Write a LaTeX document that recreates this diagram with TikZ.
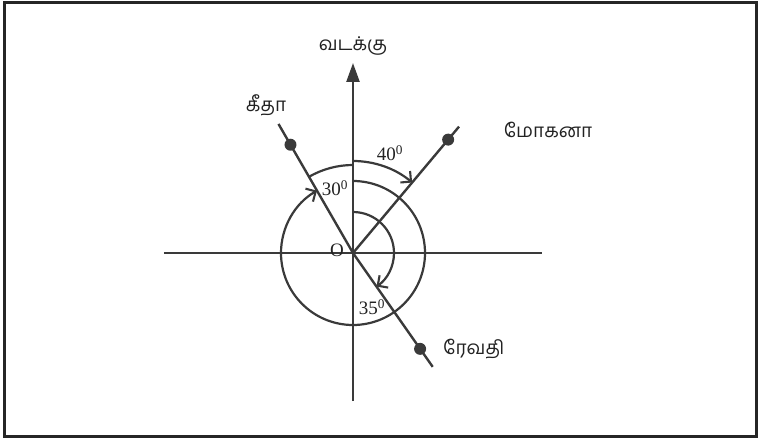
\documentclass[tikz,border=0pt]{standalone}
\usepackage{fontspec}
\setmainfont{Liberation Serif}
\newfontfamily\tamil[Script=Tamil]{Hind Madurai}
\usetikzlibrary{arrows.meta}
\definecolor{ln}{HTML}{3A3A3A}
\definecolor{tx}{HTML}{222222}
\begin{document}
\begin{tikzpicture}[x=1pt,y=1pt,
  ax/.style={draw=ln,line width=2.4pt},
  arcline/.style={draw=ln,line width=2.2pt},
  barb/.style={-{Straight Barb[length=7.5pt,width=15pt,line width=2.1pt]}},
  dotm/.style={circle,fill=ln,inner sep=0pt,minimum size=12pt},
  tlabel/.style={font=\tamil\fontsize{19}{22}\selectfont,text=tx,inner sep=0pt},
  nlabel/.style={font=\fontsize{19}{22}\selectfont,text=tx,inner sep=0pt}]
\useasboundingbox (-353,-186) rectangle (407,253);
\draw[line width=3pt,draw=black!85] (-348,-183) rectangle (403,250);
\coordinate (O) at (0,0);
\coordinate (W) at (-189,0);
\coordinate (E) at (189,0);
\coordinate (S) at (0,-148);
\coordinate (N) at (0,190);
\draw[ax] (W) -- (E);
\draw[ax,-{Triangle[length=19pt,width=13pt]}] (S) -- (N);
\node[tlabel] (north) at (0,207) {வடக்கு};
% lines
\coordinate (G) at (120:149);
\coordinate (M) at (50:165);
\coordinate (R) at (-55:139);
\draw[ax] (O) -- (G);
\draw[ax] (O) -- (M);
\draw[ax] (O) -- (R);
\node[dotm] (gd) at (120:125) {};
\node[dotm] (md) at (50:148) {};
\node[dotm] (rd) at (-55:117) {};
\node[tlabel] (geeta) at (-87,148) {கீதா};
\node[tlabel] (mohana) at (195,123) {மோகனா};
\node[tlabel,anchor=west] (revathi) at (90,-96) {ரேவதி};
% arcs
\draw[arcline,barb] (90:72) arc[start angle=90,end angle=-240,radius=72];
\draw[arcline] (120:88) arc[start angle=120,end angle=90,radius=88];
\draw[arcline,barb] (90:92) arc[start angle=90,end angle=50,radius=92];
\draw[arcline,barb] (90:41) arc[start angle=90,end angle=-55,radius=41];
% labels
\node[nlabel] (o) at (-16,3) {O};
\node[nlabel] (a30) at (-18,65) {30\textsuperscript{0}};
\node[nlabel] (a40) at (37,100) {40\textsuperscript{0}};
\node[nlabel] (a35) at (19,-54) {35\textsuperscript{0}};
\end{tikzpicture}
\end{document}
